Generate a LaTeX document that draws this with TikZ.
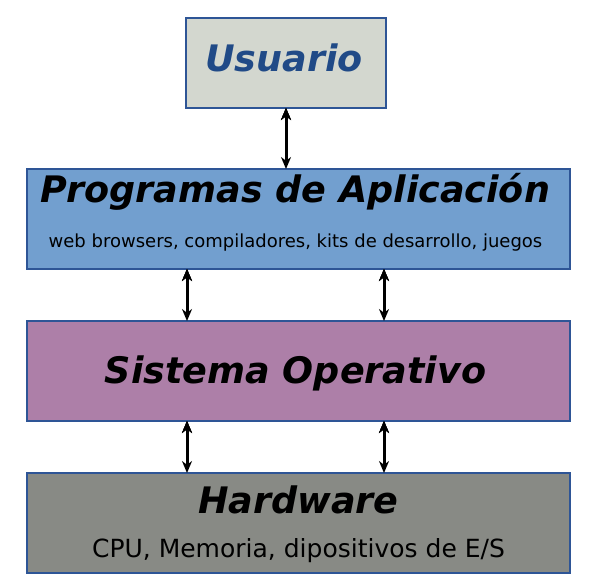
\documentclass[tikz,border=0pt]{standalone}
\usepackage{fontspec}
\setmainfont{DejaVu Sans}
\usetikzlibrary{positioning,arrows.meta}

\definecolor{usergray}{HTML}{D3D7CF}
\definecolor{userblue}{HTML}{204A87}
\definecolor{edgeblue}{HTML}{2E5596}
\definecolor{appblue}{HTML}{729FCF}
\definecolor{osplum}{HTML}{AD7FA8}
\definecolor{hwgray}{HTML}{888A85}

\begin{document}
\begin{tikzpicture}
[every node/.style={inner sep=0pt,outer sep=0pt},
 box/.style={draw=edgeblue,line width=1.3pt},
 layer/.style={box,minimum width=543pt,minimum height=100pt},
 title/.style={font=\fontsize{36.5}{36.5}\selectfont\bfseries\itshape,anchor=base},
 note/.style={anchor=base},
 >={Stealth[length=12pt,width=10pt]},
 twoway/.style={draw=black,line width=3pt,<->}]
\useasboundingbox (0pt,0pt) rectangle (595pt,-580pt);
\node[box,fill=usergray,minimum width=200pt,minimum height=90pt] (user) at (286pt,-63pt) {};
\node[layer,fill=appblue] (apps) [on grid,below right=156pt and 12.5pt of user] {};
\node[layer,fill=osplum]  (os)   [on grid,below=152pt of apps] {};
\node[layer,fill=hwgray]  (hw)   [on grid,below=152pt of os] {};
% texts
\node[title,text=userblue] (userT) [on grid,below=54pt of user.north,anchor=base,xshift=-2pt] {Usuario};
\node[title] (appsT) [on grid,below=34pt of apps.north,anchor=base,xshift=-3pt] {Programas de Aplicación};
\node[note,font=\fontsize{18}{18}\selectfont] (appsN) [on grid,below=79pt of apps.north,anchor=base,xshift=-3pt]
  {web browsers, compiladores, kits de desarrollo, juegos};
\node[title] (osT) [on grid,below=62pt of os.north,anchor=base,xshift=-3pt] {Sistema Operativo};
\node[title] (hwT) [on grid,below=40pt of hw.north,anchor=base] {Hardware};
\node[note,font=\fontsize{25}{25}\selectfont] (hwN) [on grid,below=84pt of hw.north,anchor=base]
  {CPU, Memoria, dipositivos de E/S};
% arrows
\coordinate (left) at (187pt,0pt);
\coordinate (right) at (384pt,0pt);
\path[twoway] (user.south -| user)   edge (apps.north -| user);
\path[twoway] (apps.south -| left)   edge (os.north -| left);
\path[twoway] (apps.south -| right)  edge (os.north -| right);
\path[twoway] (os.south -| left)     edge (hw.north -| left);
\path[twoway] (os.south -| right)    edge (hw.north -| right);
\end{tikzpicture}
\end{document}
